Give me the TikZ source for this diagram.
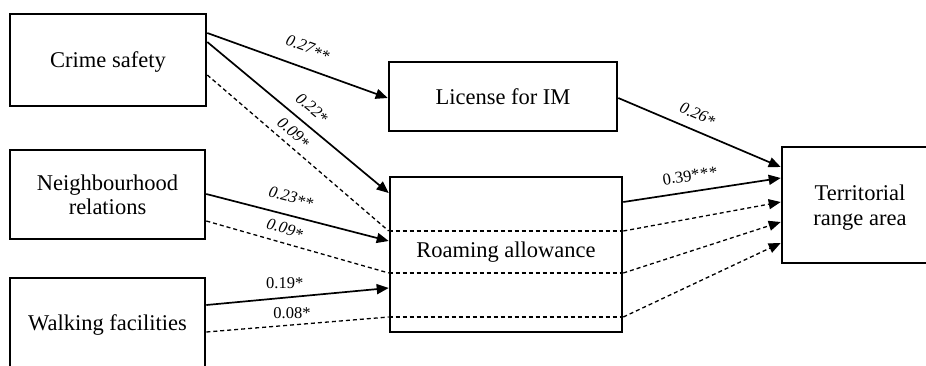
\documentclass[tikz,border=0pt]{standalone}
\usepackage{fontspec}
\setmainfont{Liberation Serif}
\usetikzlibrary{arrows.meta}
\tikzset{
  box/.style={draw, rectangle, line width=2.6pt, inner sep=0pt, align=center,
    text depth=0pt, font=\fontsize{22.5}{24.5}\selectfont},
  txt/.style={inner sep=0pt, font=\fontsize{22.5}{24.5}\selectfont},
  tip/.style={-{Triangle[length=12pt,width=10pt]}},
  solidarr/.style={line width=1.7pt, tip},
  dasharr/.style={line width=1.3pt, dash pattern=on 4pt off 3pt, tip},
  dashln/.style={line width=1.3pt, dash pattern=on 4pt off 3pt},
  lab/.style={inner sep=0pt, font=\fontsize{16.5}{18}\selectfont},
}
\newcommand{\ilab}[2]{{\itshape #1\raisebox{-0.25ex}{#2}}}
\begin{document}
\begin{tikzpicture}[x=1pt, y=-1pt]
\useasboundingbox (0,0) rectangle (926,365);
\clip (0,0) rectangle (926,365);

% boxes
\node[box, minimum width=196pt, minimum height=92pt] (crime) at (108,60) {Crime safety};
\node[box, minimum width=195pt, minimum height=89pt] (nbr) at (107.5,194.5) {Neighbourhood\\relations};
\node[box, minimum width=195pt, minimum height=90pt] (walk) at (107.5,323) {Walking facilities};
\node[box, minimum width=228pt, minimum height=69pt] (license) at (503,96.5) {License for IM};
\node[box, minimum width=232pt, minimum height=155pt] (roam) at (506,254.5) {};
\node[txt, anchor=base] (roamtext) at ([yshift=-2.5pt]roam.center) {Roaming allowance};
\node[box, minimum width=156pt, minimum height=116pt] (terr) at (860,205) {Territorial\\range area};

% dashed paths running through the mediator box
\draw[dashln] ([yshift=23.5pt]roam.west) -- ([yshift=23.5pt]roam.east);
\draw[dashln] ([yshift=-18.5pt]roam.west) -- ([yshift=-18.5pt]roam.east);
\draw[dashln] ([yshift=-62.5pt]roam.west) -- ([yshift=-62.5pt]roam.east);

% crime safety
\draw[solidarr] ([yshift=27pt]crime.east) --
  node[lab, sloped, above=12.5pt, pos=0.52] (l1) {\ilab{0.27}{**}}
  ([yshift=-1.5pt]license.west);
\draw[solidarr] ([yshift=18pt]crime.east) --
  node[lab, sloped, above=8.5pt, pos=0.52] (l2) {\ilab{0.22}{*}}
  ([yshift=61.5pt]roam.west);
\draw[dashln] ([yshift=-15pt]crime.east) --
  node[lab, sloped, above=5pt, pos=0.43] (l3) {\ilab{0.09}{*}}
  ([yshift=23.5pt]roam.west);

% neighbourhood relations
\draw[solidarr] ([yshift=0.5pt]nbr.east) --
  node[lab, sloped, above=10.5pt, pos=0.44] (l4) {\ilab{0.23}{**}}
  ([yshift=13.5pt]roam.west);
\draw[dashln] ([yshift=-26.5pt]nbr.east) --
  node[lab, sloped, above=6.5pt, pos=0.41] (l5) {\ilab{0.09}{*}}
  ([yshift=-18.5pt]roam.west);

% walking facilities
\draw[solidarr] ([yshift=18pt]walk.east) --
  node[lab, above=8pt, pos=0.43] (l6) {0.19*}
  ([yshift=-33.5pt]roam.west);
\draw[dashln] ([yshift=-9pt]walk.east) --
  node[lab, above=5.5pt, pos=0.47] (l7) {0.08*}
  ([yshift=-62.5pt]roam.west);

% into territorial range area
\draw[solidarr] ([yshift=-1.5pt]license.east) --
  node[lab, sloped, above=8pt, pos=0.45] (l8) {\ilab{0.26}{*}}
  ([yshift=38pt]terr.west);
\draw[solidarr] ([yshift=52.5pt]roam.east) --
  node[lab, sloped, above=9.5pt, pos=0.44] (l9) {0.39*\kern0.8pt*\kern0.8pt*}
  ([yshift=27pt]terr.west);
\draw[dasharr] ([yshift=23.5pt]roam.east) -- ([yshift=3pt]terr.west);
\draw[dasharr] ([yshift=-18.5pt]roam.east) -- ([yshift=-17pt]terr.west);
\draw[dasharr] ([yshift=-62.5pt]roam.east) -- ([yshift=-38pt]terr.west);
\end{tikzpicture}
\end{document}
